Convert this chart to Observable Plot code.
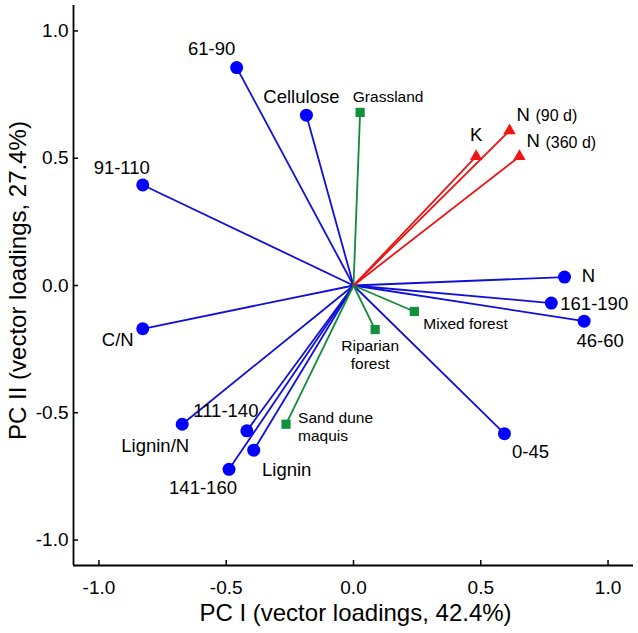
<!DOCTYPE html>
<html><head><meta charset="utf-8">
<script src="https://cdn.jsdelivr.net/npm/d3@7"></script>
<script src="https://cdn.jsdelivr.net/npm/@observablehq/plot@0.6"></script>
<style>body{margin:0;background:#fff}</style>
</head><body><div id="chart"></div>
<script>
// Variable loadings (blue circles)
const variableNames = ["61-90","Cellulose","91-110","N","161-190","46-60","0-45","C/N","Lignin/N","111-140","Lignin","141-160"];
const variablePC1 = [-0.459,-0.185,-0.828,0.829,0.777,0.906,0.593,-0.828,-0.673,-0.419,-0.392,-0.489];
const variablePC2 = [0.856,0.669,0.395,0.033,-0.069,-0.140,-0.582,-0.170,-0.545,-0.571,-0.647,-0.722];
// Habitat loadings (green squares)
const habitatNames = ["Grassland","Mixed forest","Riparian\nforest","Sand dune\nmaquis"];
const habitatPC1 = [0.026,0.239,0.085,-0.265];
const habitatPC2 = [0.680,-0.102,-0.173,-0.545];
// Nutrient release loadings (red triangles)
const nutrientNames = ["K","N (90 d)","N (360 d)"];
const nutrientPC1 = [0.482,0.613,0.652];
const nutrientPC2 = [0.507,0.608,0.507];
// Axes
const axisTicks = [-1.0,-0.5,0.0,0.5,1.0];
const xTitle = "PC I (vector loadings, 42.4%)";
const yTitle = "PC II (vector loadings, 27.4%)";

// Label placement (pixel offsets from each marker, text anchor)
const labelPlacement = {
  "61-90": [-25,-19,"middle"], "Cellulose": [-5,-19,"middle"], "91-110": [-21,-18,"middle"],
  "N": [24,-2,"middle"], "161-190": [9,0,"start"], "46-60": [16,19,"middle"],
  "0-45": [26,18,"middle"], "C/N": [-25,10,"middle"], "Lignin/N": [-27,21,"middle"],
  "111-140": [-21,-21,"middle"], "Lignin": [33,19,"middle"], "141-160": [-26,18,"middle"],
  "Grassland": [28,-16,"middle"], "Mixed forest": [9,12,"start"],
  "Riparian\nforest": [-5,25,"middle"], "Sand dune\nmaquis": [12,2,"start"],
  "K": [0,-21,"middle"], "N (90 d)": [7,-16,"start"], "N (360 d)": [7,-15,"start"]
};

const BLUE = "#0000ff", GREEN = "#13903c", RED = "#f01414";
const BLUE_LINE = "#1010d8", GREEN_LINE = "#138a3a", RED_LINE = "#ea1414";
const variables = variableNames.map((name,i)=>({name, x: variablePC1[i], y: variablePC2[i]}));
const habitats = habitatNames.map((name,i)=>({name, x: habitatPC1[i], y: habitatPC2[i]}));
const nutrients = nutrientNames.map((name,i)=>({name, x: nutrientPC1[i], y: nutrientPC2[i]}));

function labelMarks(rows, fontSize) {
  return rows.map(d => {
    const [dx, dy, anchor] = labelPlacement[d.name];
    return Plot.text([d], {x: "x", y: "y", text: "name", dx, dy, textAnchor: anchor, fontSize, fill: "black", lineHeight: 1.15});
  });
}
function nutrientLabelMarks(rows) {
  const out = [];
  rows.forEach(d => {
    const [dx, dy, anchor] = labelPlacement[d.name];
    const sp = d.name.indexOf(" ");
    const head = sp < 0 ? d.name : d.name.slice(0, sp);
    const tail = sp < 0 ? null : d.name.slice(sp + 1);
    out.push(Plot.text([d], {x: "x", y: "y", text: () => head, dx, dy, textAnchor: anchor, fontSize: 18.5, fill: "black"}));
    if (tail) out.push(Plot.text([d], {x: "x", y: "y", text: () => tail, dx: dx + 19, dy: dy + 1, textAnchor: "start", fontSize: 16, fill: "black"}));
  });
  return out;
}

const chart = Plot.plot({
  width: 638, height: 633,
  marginLeft: 73, marginRight: 5, marginTop: 5, marginBottom: 68,
  x: {domain: [-1.1, 1.1]},
  y: {domain: [-1.1, 1.1]},
  style: {fontFamily: "'Liberation Sans', Arial, Helvetica, sans-serif", background: "white", color: "black"},
  marks: [
    Plot.axisX({ticks: axisTicks, tickFormat: d => d.toFixed(1), tickSize: -5, tickPadding: 20, fontSize: 19, label: null, strokeWidth: 1.5}),
    Plot.axisY({ticks: axisTicks, tickFormat: d => d.toFixed(1), tickSize: -5, tickPadding: 10, fontSize: 19, label: null, strokeWidth: 1.5}),
    Plot.ruleX([-1.1], {stroke: "black", strokeWidth: 1.8}),
    Plot.ruleY([-1.1], {stroke: "black", strokeWidth: 1.8}),
    Plot.link(variables, {x1: 0, y1: 0, x2: "x", y2: "y", stroke: BLUE_LINE, strokeWidth: 1.8}),
    Plot.link(habitats, {x1: 0, y1: 0, x2: "x", y2: "y", stroke: GREEN_LINE, strokeWidth: 1.8}),
    Plot.link(nutrients, {x1: 0, y1: 0, x2: "x", y2: "y", stroke: RED_LINE, strokeWidth: 1.8}),
    Plot.dot(variables, {x: "x", y: "y", r: 6.5, fill: BLUE, stroke: null}),
    Plot.dot(habitats, {x: "x", y: "y", symbol: "square", r: 5.2, fill: GREEN, stroke: null}),
    Plot.dot(nutrients, {x: "x", y: "y", symbol: "triangle", r: 4.6, fill: RED, stroke: null}),
    ...labelMarks(variables, 18.5),
    ...labelMarks(habitats, 15.5),
    ...nutrientLabelMarks(nutrients),
    Plot.text([xTitle], {text: d => d, frameAnchor: "bottom", textAnchor: "middle", lineAnchor: "middle", dy: 48, dx: 2, fontSize: 24, fill: "black"}),
    Plot.text([yTitle], {text: d => d, frameAnchor: "left", textAnchor: "middle", lineAnchor: "middle", dx: -55, dy: -5, rotate: -90, fontSize: 24, fill: "black"})
  ]
});
document.getElementById("chart").appendChild(chart);
</script>
</body></html>
